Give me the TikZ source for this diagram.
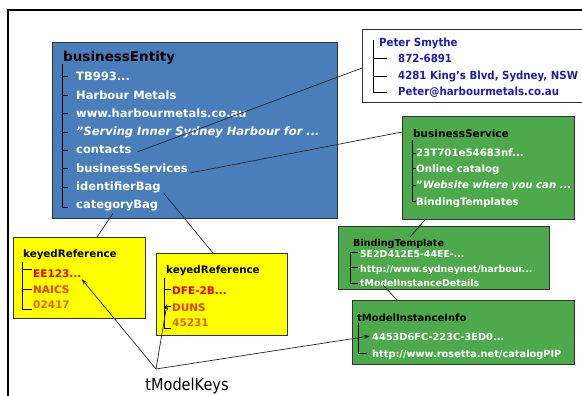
\documentclass[tikz,border=0pt]{standalone}
\usepackage{fontspec}
\setmainfont{DejaVu Sans}
\newfontfamily\narrowsans[FakeStretch=0.91]{DejaVu Sans}
\usetikzlibrary{arrows.meta,calc}
\definecolor{entityblue}{RGB}{74,126,187}
\definecolor{servicegreen}{RGB}{78,168,76}
\definecolor{refyellow}{RGB}{255,255,0}
\definecolor{contactblue}{RGB}{30,30,170}
\definecolor{keyred}{RGB}{228,0,0}
\definecolor{keyorange}{RGB}{240,60,0}
\definecolor{keyamber}{RGB}{230,100,10}
\definecolor{edgegray}{RGB}{50,50,50}
% straight double quote, independent of the TeX ligature mapping
\newcommand\straightquote{\char34\relax}

\begin{document}
\begin{tikzpicture}[x=1pt,y=-1pt,
  panel/.style={draw=edgegray,line width=0.9pt,anchor=north west,inner sep=0pt},
  item/.style={anchor=base west,inner sep=0pt},
  tree/.style={line width=0.8pt,black},
  link/.style={line width=0.7pt,black!85},
  keyarrow/.style={link,-{Stealth[length=6pt,width=4pt]}},
  bigtitle/.style={font=\fontsize{13.5}{14}\selectfont\bfseries,text=black},
  bigitem/.style={font=\fontsize{11.5}{12}\selectfont\bfseries,text=white},
  contactitem/.style={font=\narrowsans\fontsize{11.2}{12}\selectfont\bfseries,text=contactblue},
  midtitle/.style={font=\fontsize{10.5}{11}\selectfont\bfseries,text=black},
  miditem/.style={font=\fontsize{10.2}{11}\selectfont\bfseries,text=white},
  smalltitle/.style={font=\fontsize{9.6}{10}\selectfont\bfseries,text=black},
  smallitem/.style={font=\fontsize{9.4}{10}\selectfont\bfseries,text=white},
  reftitle/.style={font=\fontsize{10.3}{11}\selectfont\bfseries,text=black},
  refitem/.style={font=\fontsize{10.5}{11}\selectfont\bfseries},
]
\useasboundingbox (0,0) rectangle (582,396);
\fill[white] (0,0) rectangle (582,396);

% outer frame (top and left rule)
\draw[line width=2pt] (8,396) -- (8,10) -- (583,10);

% ---------- businessEntity ----------
\node[panel,fill=entityblue,minimum width=285pt,minimum height=176pt] (entity) at (52,42) {};
\node[item,bigtitle] (entitytitle) at (63,62) {businessEntity};
\node[item,bigitem] (tb) at (76,81) {TB993...};
\node[item,bigitem] (hm) at (76,99.2) {Harbour Metals};
\node[item,bigitem] (www) at (76,117.4) {www.harbourmetals.co.au};
\node[item,bigitem] (serving) at (76,135.6) {\itshape\straightquote Serving Inner Sydney Harbour for ...};
\node[item,bigitem] (contacts) at (76,153.8) {contacts};
\node[item,bigitem] (bservices) at (76,172) {businessServices};
\node[item,bigitem] (idbag) at (76,190.2) {identifierBag};
\node[item,bigitem] (catbag) at (76,208.4) {categoryBag};
\draw[tree] (62,64) -- (62,207) -- (68,207);
\foreach \ty in {76,95,113,132,150,168,187} \draw[tree] (62,\ty) -- (68,\ty);

% ---------- contact ----------
\node[panel,fill=white,minimum width=222pt,minimum height=73pt] (contact) at (362,29) {};
\node[item,contactitem] (cname) at (379,47) {Peter Smythe};
\node[item,contactitem] (cphone) at (398,63) {872-6891};
\node[item,contactitem] (caddr) at (398,80) {4281 King’s Blvd, Sydney, NSW};
\node[item,contactitem] (cmail) at (398,96) {Peter@harbourmetals.co.au};
\draw[tree] (373,40) -- (373,92) -- (387,92);
\draw[tree] (373,58) -- (387,58) (373,76) -- (387,76);

% ---------- businessService ----------
\node[panel,fill=servicegreen,minimum width=172pt,minimum height=103pt] (service) at (402,116) {};
\node[item,midtitle] (stitle) at (413,138) {businessService};
\node[item,miditem] (skey) at (416,157) {23T701e54683nf...};
\node[item,miditem] (sname) at (416,172) {Online catalog};
\node[item,miditem] (sdesc) at (416,189) {\straightquote\textit{Website where you can ...}};
\node[item,miditem] (sbind) at (416,205) {BindingTemplates};
\draw[tree] (412,140) -- (412,201) -- (416,201);
\foreach \ty in {153,168,185} \draw[tree] (412,\ty) -- (416,\ty);

% ---------- BindingTemplate ----------
\node[panel,fill=servicegreen,minimum width=211pt,minimum height=63pt] (binding) at (338,226) {};
\node[item,smalltitle] (btitle) at (353,246) {BindingTemplate};
\node[item,smallitem] (bkey) at (360,258) {5E2D412E5-44EE-...};
\node[item,smallitem] (burl) at (360,272) {http://www.sydneynet/harbour...};
\node[item,smallitem] (bdetail) at (360,286) {tModelInstanceDetails};
\draw[tree] (358,252) -- (350,252) -- (350,283) -- (358,283);
\draw[tree] (350,267) -- (358,267);

% ---------- tModelInstanceInfo ----------
\node[panel,fill=servicegreen,minimum width=222pt,minimum height=64pt] (info) at (352,300) {};
\node[item,smalltitle,font=\fontsize{10}{10}\selectfont\bfseries] (ititle) at (357,321) {tModelInstanceInfo};
\node[item,miditem,font=\fontsize{9.8}{10}\selectfont\bfseries] (ikey) at (372,340) {4453D6FC-223C-3ED0...};
\node[item,miditem,font=\fontsize{9.8}{10}\selectfont\bfseries] (iurl) at (372,357) {http://www.rosetta.net/catalogPIP};
\draw[tree] (358,323) -- (358,353) -- (367,353);

% ---------- keyedReference (NAICS) ----------
\node[panel,fill=refyellow,minimum width=132pt,minimum height=81pt] (kref1) at (13,237) {};
\node[item,reftitle] (k1title) at (23,257) {keyedReference};
\node[item,refitem,text=keyred] (k1key) at (33,277) {EE123...};
\node[item,refitem,text=keyorange] (k1name) at (33,293) {NAICS};
\node[item,refitem,text=keyamber] (k1val) at (33,308) {02417};
\draw[tree] (22,262) -- (22,309) -- (32,309);
\foreach \ty in {269,289} \draw[tree] (22,\ty) -- (32,\ty);

% ---------- keyedReference (DUNS) ----------
\node[panel,fill=refyellow,minimum width=131pt,minimum height=82pt] (kref2) at (156,253) {};
\node[item,reftitle] (k2title) at (166,273) {keyedReference};
\node[item,refitem,text=keyred] (k2key) at (172,294) {DFE-2B...};
\node[item,refitem,text=keyorange] (k2name) at (172,311) {DUNS};
\node[item,refitem,text=keyamber] (k2val) at (172,326) {45231};
\draw[tree] (164,278) -- (164,328) -- (171,328);
\foreach \ty in {289,306} \draw[tree] (164,\ty) -- (171,\ty);

% ---------- links between structures ----------
\draw[link] ($(contacts.base east)+(6,-2)$) -- ($(contact.north west)+(0,39)$);
\draw[link] ($(bservices.base east)+(2,1)$) -- ($(service.north west)+(0,16)$);
\draw[link] ($(idbag.base east)+(3,3)$) -- ($(kref2.north west)+(57,0)$);
\draw[link] ($(catbag.base west)+(37,5)$) -- ($(kref1.north west)+(84,0)$);
\draw[link] ($(service.south west)+(23,0)$) -- ($(binding.north west)+(72,11)$);
\draw[link] ($(bdetail.base west)+(23,-1)$) -- ($(info.north west)+(45,0)$);

% ---------- tModelKeys ----------
\coordinate (hub) at (156,369);
\node[anchor=base,inner sep=0pt,font=\fontsize{16.5}{17}\selectfont] (tmk) at (187,390) {\scalebox{0.88}[1]{tModelKeys}};
\draw[keyarrow] (hub) -- ($(k1key.base east)+(0,2)$);
\draw[keyarrow] (hub) -- ($(k2name.base west)+(-5,-7)$);
\draw[keyarrow] (hub) -- ($(ikey.base west)+(-2,-4)$);
\end{tikzpicture}
\end{document}
